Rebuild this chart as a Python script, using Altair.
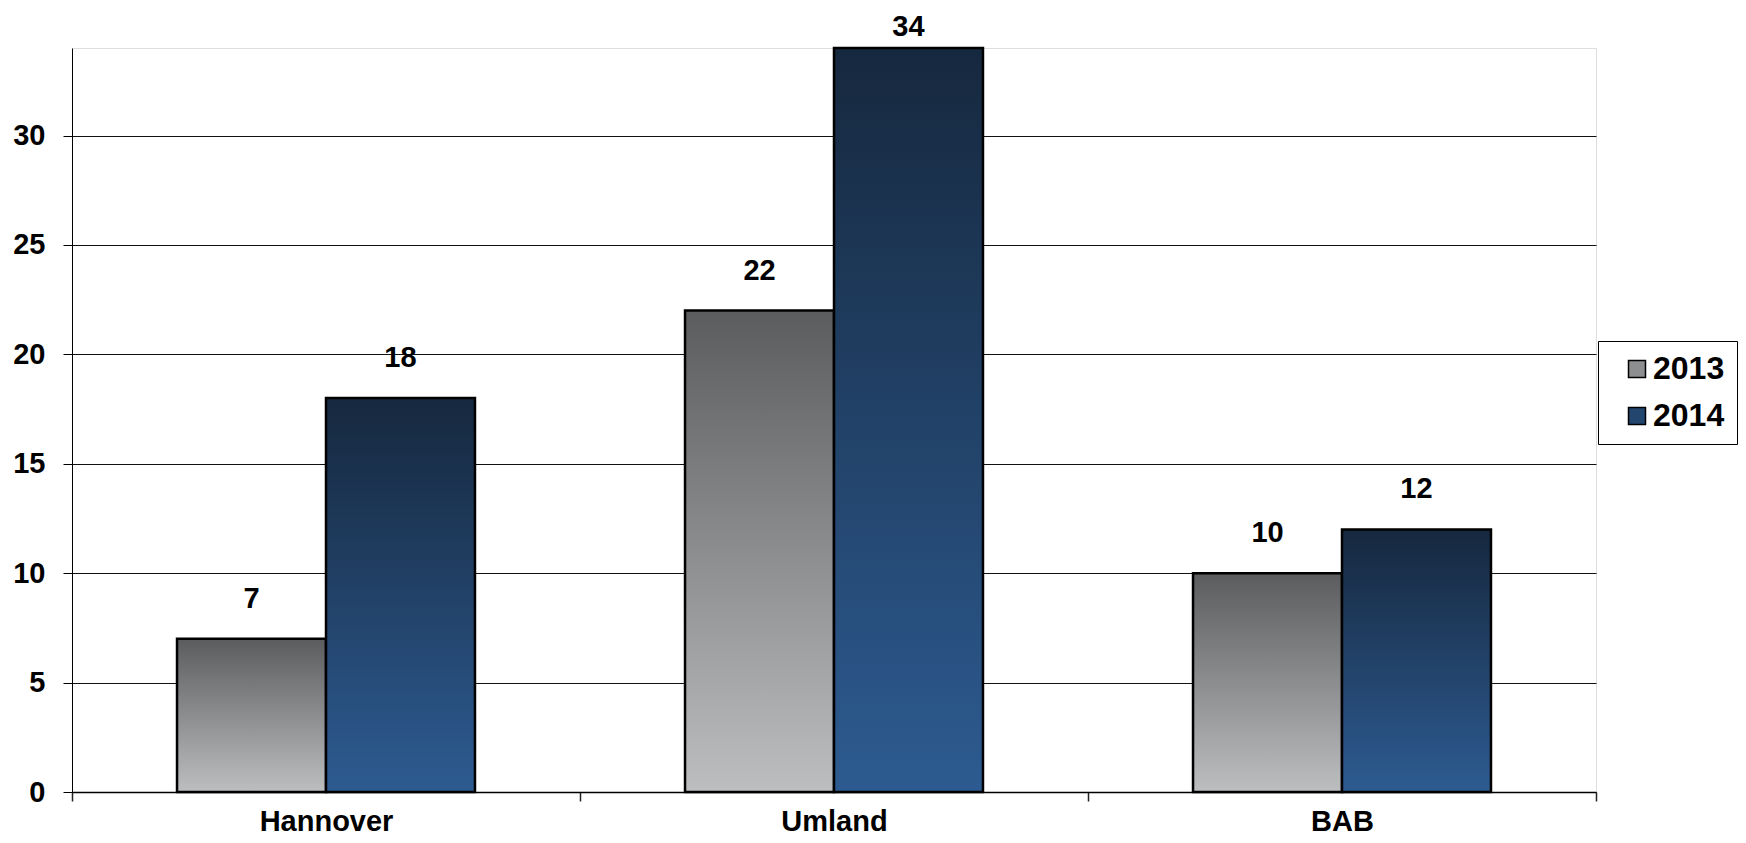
import altair as alt
import pandas as pd

categories = ["Hannover", "Umland", "BAB"]
years = ["2013", "2014"]
values_2013 = [7, 22, 10]
values_2014 = [18, 34, 12]
y_ticks = [0, 5, 10, 15, 20, 25, 30]

rows = []
for c, v13, v14 in zip(categories, values_2013, values_2014):
    rows.append({"cat": c, "year": "2013", "value": v13})
    rows.append({"cat": c, "year": "2014", "value": v14})
df = pd.DataFrame(rows)

FONT = "Liberation Sans"

grad13 = alt.Gradient(
    gradient="linear", x1=0, y1=0, x2=0, y2=1,
    stops=[alt.GradientStop(color="#5b5c5e", offset=0),
           alt.GradientStop(color="#bdbec0", offset=1)])
grad14 = alt.Gradient(
    gradient="linear", x1=0, y1=0, x2=0, y2=1,
    stops=[alt.GradientStop(color="#16283e", offset=0),
           alt.GradientStop(color="#2d5b91", offset=1)])

x_enc = alt.X("cat:N", sort=categories,
              scale=alt.Scale(paddingInner=0, paddingOuter=0),
              axis=alt.Axis(title=None, labelAngle=0, labelFont=FONT, labelFontSize=29,
                            labelFontWeight="bold", labelColor="black", labelPadding=6,
                            tickBand="extent", tickSize=9, tickColor="#222", tickWidth=1.5,
                            domainColor="black", domainWidth=1.5, grid=False))
xo_enc = alt.XOffset("year:N", scale=alt.Scale(domain=years, paddingInner=0, paddingOuter=0.705))
y_enc = alt.Y("value:Q",
              scale=alt.Scale(domain=[0, 34], nice=False, zero=True),
              axis=alt.Axis(title=None, values=y_ticks, labelFont=FONT, labelFontSize=29,
                            labelFontWeight="bold", labelColor="black", labelPadding=18,
                            tickSize=9, tickColor="black", domainColor="black",
                            gridColor="#111", gridWidth=1, grid=True))

base = alt.Chart(df)

bars13 = base.transform_filter(alt.datum.year == "2013").mark_bar(
    fill=grad13, stroke="black", strokeWidth=2.5).encode(x=x_enc, xOffset=xo_enc, y=y_enc)
bars14 = base.transform_filter(alt.datum.year == "2014").mark_bar(
    fill=grad14, stroke="black", strokeWidth=2.5).encode(x=x_enc, xOffset=xo_enc, y=y_enc)

legend_layer = base.mark_point(shape="square", filled=True, opacity=0).encode(
    x=x_enc, xOffset=xo_enc, y=y_enc,
    color=alt.Color("year:N",
                    scale=alt.Scale(domain=years, range=["#8d8e90", "#23466f"]),
                    legend=alt.Legend(title=None,
                                      orient="none", legendX=1526, legendY=293,
                                      symbolType="square", symbolSize=289, symbolOpacity=1,
                                      symbolStrokeColor="black", symbolStrokeWidth=1.5,
                                      labelFont=FONT, labelFontSize=32, labelFontWeight="bold",
                                      labelColor="black", labelOffset=0, rowPadding=15,
                                      padding=12, symbolOffset=11,
                                      strokeColor="black", fillColor="white")))

labels = base.transform_calculate(ly="min(datum.value, 33.15)").mark_text(
    font=FONT, fontSize=29, fontWeight="bold", color="black",
    baseline="alphabetic", dy=-31).encode(
    x=x_enc, xOffset=xo_enc, y=alt.Y("ly:Q", scale=alt.Scale(domain=[0, 34], nice=False)),
    text="value:Q")

chart = alt.layer(bars13, bars14, legend_layer, labels).properties(
    width=1524, height=744,
    autosize=alt.AutoSizeParams(type="none"),
    padding={"left": 64, "top": 40, "right": 142, "bottom": 43},
).configure_view(strokeWidth=0).configure(background="white")

chart.save("out.html", embed_options={"renderer": "svg", "actions": False})
